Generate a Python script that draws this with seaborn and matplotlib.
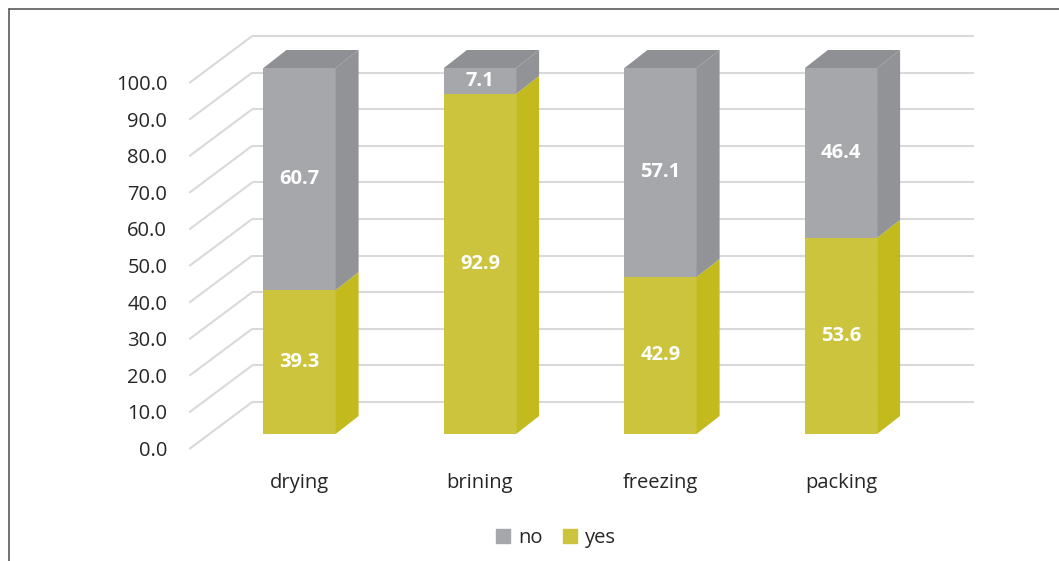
import numpy as np
import pandas as pd
import matplotlib
matplotlib.use("Agg")
import matplotlib.pyplot as plt
import seaborn as sns
from matplotlib.patches import Polygon, Patch
from matplotlib.lines import Line2D

# ---- data ----
categories = ["drying", "brining", "freezing", "packing"]
yes_values = [39.3, 92.9, 42.9, 53.6]
no_values = [60.7, 7.1, 57.1, 46.4]
y_ticks = [0, 10, 20, 30, 40, 50, 60, 70, 80, 90, 100]

# ---- style ----
sns.set_theme(style="white")
plt.rcParams["font.family"] = ["Open Sans", "DejaVu Sans"]

gray_front = "#A6A7AB"
gray_side = "#929396"
gray_top = "#8F9093"
yel_front = "#CCC43C"
yel_side = "#C3BB1E"
grid_col = "#D9D9D9"
text_col = "#262626"
FS = 14.5

W, H = 1059, 561
fig = plt.figure(figsize=(W / 100, H / 100), dpi=100)
ax_left, ax_right = 209.25, 931.25
ax_top, ax_bottom = 68.0, 434.0
ax = fig.add_axes([ax_left / W, 1 - ax_bottom / H,
                   (ax_right - ax_left) / W, (ax_bottom - ax_top) / H])

df = pd.DataFrame({"category": categories, "yes": yes_values, "no": no_values})
df["total"] = df["yes"] + df["no"]

sns.barplot(data=df, x="category", y="total", color=gray_front, saturation=1,
            width=0.4, ax=ax, linewidth=0, zorder=3)
sns.barplot(data=df, x="category", y="yes", color=yel_front, saturation=1,
            width=0.4, ax=ax, linewidth=0, zorder=3)
ax.set_xlim(-0.5, 3.5)
ax.set_ylim(0, 100)
ax.set_xlabel("")
ax.set_ylabel("")
ax.set_xticks([])
ax.set_yticks([])
for s in ax.spines.values():
    s.set_visible(False)
ax.patch.set_alpha(0)

px_x = (ax_right - ax_left) / 4.0
px_y = (ax_bottom - ax_top) / 100.0

# 3D offsets in data units
fdx, fdy = -20 / px_x, -15 / px_y      # front plane (labels)
bdx, bdy = 43 / px_x, 32 / px_y        # back wall
ddx, ddy = 23 / px_x, 18 / px_y        # bar depth

xl, xr = -0.5, 3.5
for v in y_ticks:
    ax.plot([xl + fdx, xl + bdx], [v + fdy, v + bdy], color=grid_col, lw=1.5,
            zorder=1, clip_on=False, solid_capstyle="butt")
    ax.plot([xl + bdx, xr + bdx], [v + bdy, v + bdy], color=grid_col, lw=1.5,
            zorder=1, clip_on=False, solid_capstyle="butt")
    ax.text(xl + fdx - 22 / px_x, v + fdy - 7 / px_y, f"{v:.1f}", ha="right",
            va="baseline", fontsize=FS, color=text_col, clip_on=False)

# side and top faces
patches = list(ax.patches)
for i in range(len(categories)):
    p = patches[i]
    x0 = p.get_x()
    x1 = x0 + p.get_width()
    yv = yes_values[i]
    tot = yes_values[i] + no_values[i]
    ax.add_patch(Polygon([(x1, 0), (x1 + ddx, ddy), (x1 + ddx, yv + ddy), (x1, yv)],
                         closed=True, facecolor=yel_side, lw=0, zorder=3.5, clip_on=False))
    ax.add_patch(Polygon([(x1, yv), (x1 + ddx, yv + ddy), (x1 + ddx, tot + ddy), (x1, tot)],
                         closed=True, facecolor=gray_side, lw=0, zorder=3.5, clip_on=False))
    ax.add_patch(Polygon([(x0, tot), (x1, tot), (x1 + ddx, tot + ddy), (x0 + ddx, tot + ddy)],
                         closed=True, facecolor=gray_top, lw=0, zorder=3.5, clip_on=False))
    cx = x0 + p.get_width() / 2
    ax.text(cx, yv / 2, f"{yv:.1f}", ha="center", va="center", fontsize=FS,
            fontweight="bold", color="white", zorder=5)
    ax.text(cx, yv + no_values[i] / 2, f"{no_values[i]:.1f}", ha="center", va="center",
            fontsize=FS, fontweight="bold", color="white", zorder=5)
    ax.text(cx, -54 / px_y, categories[i], ha="center", va="baseline", fontsize=FS,
            color=text_col, clip_on=False)

fig.legend(handles=[Patch(color=gray_front, label="no"), Patch(color=yel_front, label="yes")],
           loc="center", bbox_to_anchor=(556 / W, 1 - 538 / H), ncol=2, frameon=False,
           fontsize=FS, handlelength=0.7, handleheight=0.7, handletextpad=0.4,
           columnspacing=1.0, labelcolor=text_col)

# outer border (top and left visible)
fig.add_artist(Line2D([8.5 / W, 8.5 / W], [0, 1 - 8.5 / H], transform=fig.transFigure,
                      color="#5A5A5A", lw=1.2))
fig.add_artist(Line2D([8.5 / W, 1], [1 - 8.5 / H, 1 - 8.5 / H], transform=fig.transFigure,
                      color="#5A5A5A", lw=1.2))

fig.savefig("out.png", dpi=100)
